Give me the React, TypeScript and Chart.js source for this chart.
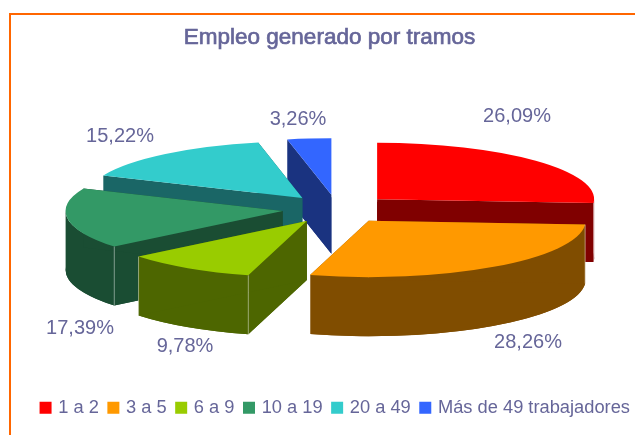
import React, { useEffect, useRef } from "react";
import { Chart, registerables } from "chart.js";

Chart.register(...registerables);

const categories = ["1 a 2", "3 a 5", "6 a 9", "10 a 19", "20 a 49", "Más de 49 trabajadores"];
const shares = [26.09, 28.26, 9.78, 17.39, 15.22, 3.26];
const topColors = ["#FF0000", "#FF9900", "#99CC00", "#339966", "#33CCCC", "#3366FF"];
const wallColors = ["#800000", "#804D00", "#4D6600", "#1A4D33", "#1A6666", "#1A3380"];
const titleText = "Empleo generado por tramos";

const INK = "#666699";
const FONT = "'Liberation Sans', Arial, sans-serif";
const TITLE_SIZE = 22.5;
const TITLE_PAD = 24;
const BASE_RADIUS = 100;
const EXPLODE = 25.3;
const CENTER_X = 337;
const CENTER_Y = 209;
const SCALE_X = 2.17;
const SCALE_Y = 0.565;
const DEPTH = 59;
const PAINT_ORDER = [5, 4, 3, 2, 0, 1];
const LABEL_SPOTS: [number, number][] = [
  [517, 116],
  [528, 342],
  [185, 346],
  [80, 328],
  [120, 136],
  [298, 119],
];

const pie3d = {
  id: "pie3d",
  beforeDatasetsDraw(chart: any) {
    const ctx = chart.ctx as CanvasRenderingContext2D;
    const arcs = chart.getDatasetMeta(0).data;
    const d = DEPTH / SCALE_Y;
    PAINT_ORDER.forEach((i) => {
      const el = arcs[i];
      const { x, y, startAngle: a0, endAngle: a1, outerRadius: r } = el.getProps(
        ["x", "y", "startAngle", "endAngle", "outerRadius"],
        true
      );
      const mid = (a0 + a1) / 2;
      const shiftX = Math.cos(mid) * EXPLODE;
      const shiftY = Math.sin(mid) * EXPLODE;
      const ox = x + shiftX;
      const oy = y + shiftY;
      ctx.save();
      ctx.setTransform(SCALE_X, 0, 0, SCALE_Y, CENTER_X - x * SCALE_X, CENTER_Y - y * SCALE_Y);
      ctx.fillStyle = wallColors[i];
      // bottom face
      ctx.beginPath();
      ctx.moveTo(ox, oy + d);
      ctx.arc(ox, oy + d, r, a0, a1);
      ctx.closePath();
      ctx.fill();
      // front-facing part of the rim (canvas angles 0..PI point towards the viewer)
      const lo = Math.max(a0, 0);
      const hi = Math.min(a1, Math.PI);
      if (hi > lo) {
        ctx.beginPath();
        ctx.arc(ox, oy, r, lo, hi);
        ctx.arc(ox, oy + d, r, hi, lo, true);
        ctx.closePath();
        ctx.fill();
      }
      // the two cut faces
      [a0, a1].forEach((a) => {
        ctx.beginPath();
        ctx.moveTo(ox, oy);
        ctx.lineTo(ox + Math.cos(a) * r, oy + Math.sin(a) * r);
        ctx.lineTo(ox + Math.cos(a) * r, oy + Math.sin(a) * r + d);
        ctx.lineTo(ox, oy + d);
        ctx.closePath();
        ctx.fill();
      });
      ctx.translate(shiftX, shiftY);
      el.draw(ctx);
      ctx.restore();

      // pale highlight on the front corners of the wall
      [a0, a1].forEach((a) => {
        if (Math.sin(a) > 0.05) {
          const px = CENTER_X + (shiftX + Math.cos(a) * r) * SCALE_X;
          const py = CENTER_Y + (shiftY + Math.sin(a) * r) * SCALE_Y;
          ctx.save();
          ctx.strokeStyle = "rgba(255,255,255,0.45)";
          ctx.lineWidth = 1;
          ctx.beginPath();
          ctx.moveTo(px, py);
          ctx.lineTo(px, py + DEPTH);
          ctx.stroke();
          ctx.restore();
        }
      });
    });

    ctx.save();
    ctx.fillStyle = INK;
    ctx.font = `20px ${FONT}`;
    ctx.textAlign = "center";
    ctx.textBaseline = "middle";
    shares.forEach((v, i) => {
      const [lx, ly] = LABEL_SPOTS[i];
      ctx.fillText(v.toFixed(2).replace(".", ",") + "%", lx, ly);
    });
    ctx.restore();
    return false;
  },
  afterDraw(chart: any) {
    // thickens the regular-weight title into the reference's faux bold
    const ctx = chart.ctx as CanvasRenderingContext2D;
    const t = chart.titleBlock;
    ctx.save();
    ctx.strokeStyle = INK;
    ctx.lineWidth = 0.7;
    ctx.font = `${TITLE_SIZE}px ${FONT}`;
    ctx.textAlign = "center";
    ctx.textBaseline = "middle";
    ctx.strokeText(titleText, (t.left + t.right) / 2, t.top + TITLE_PAD + (TITLE_SIZE * 1.2) / 2);
    ctx.restore();
  },
};

export default function App() {
  const ref = useRef<HTMLCanvasElement>(null);
  useEffect(() => {
    const chart = new Chart(ref.current!, {
      type: "pie",
      data: {
        labels: categories,
        datasets: [
          {
            data: shares,
            backgroundColor: topColors,
            borderWidth: 0,
          },
        ],
      },
      options: {
        animation: false,
        responsive: false,
        radius: BASE_RADIUS,
        layout: { padding: { left: 18, right: 0, top: 0, bottom: 8 } },
        plugins: {
          tooltip: { enabled: false },
          title: {
            display: true,
            text: titleText,
            color: INK,
            font: { family: FONT, size: TITLE_SIZE, weight: "normal", lineHeight: 1.2 },
            padding: { top: TITLE_PAD, bottom: 0 },
          },
          legend: {
            position: "bottom",
            align: "end",
            labels: {
              color: INK,
              font: { family: FONT, size: 18.3 },
              boxWidth: 7,
              boxHeight: 7,
              padding: 11,
              generateLabels: () =>
                categories.map((text, i) => ({
                  text,
                  index: i,
                  fillStyle: topColors[i],
                  strokeStyle: topColors[i],
                  lineWidth: 5,
                  fontColor: INK,
                })),
            },
          },
        },
      } as any,
      plugins: [pie3d],
    });
    return () => chart.destroy();
  }, []);
  return (
    <div style={{ position: "absolute", left: 0, top: 0, width: 635, height: 435, background: "#fff", overflow: "hidden" }}>
      <div
        style={{
          position: "absolute",
          left: 8.5,
          top: 12.5,
          width: 640,
          height: 440,
          borderLeft: "2.5px solid #FF6600",
          borderTop: "2.5px solid #FF6600",
        }}
      />
      <canvas ref={ref} width={641} height={435} style={{ position: "absolute", left: 0, top: 0, display: "block" }} />
    </div>
  );
}
